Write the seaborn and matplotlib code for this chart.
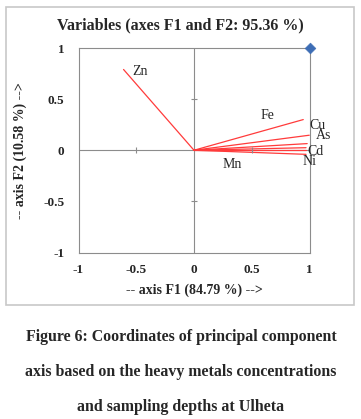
import matplotlib
matplotlib.use("Agg")
import matplotlib.pyplot as plt
import seaborn as sns
import pandas as pd
from matplotlib.patches import Rectangle

# Variable loadings on F1 / F2
variables = ['Zn', 'Fe', 'Cu', 'As', 'Cd', 'Mn', 'Ni']
f1 = [-0.61, 0.946, 0.998, 0.98, 0.97, 0.97, 0.97]
f2 = [0.79, 0.30, 0.147, 0.065, 0.025, 0.0, -0.04]

# Observation point (blue diamond)
obs_f1 = [1.0]
obs_f2 = [1.0]

ticks = [-1, -0.5, 0, 0.5, 1]
tick_labels = ['-1', '-0.5', '0', '0.5', '1']

title = 'Variables (axes F1 and F2: 95.36 %)'
xlabel = '-- axis F1 (84.79 %) -->'
ylabel = '-- axis F2 (10.58 %) -->'
caption = ['Figure 6: Coordinates of principal component',
           'axis based on the heavy metals concentrations',
           'and sampling depths at Ulheta']

df = pd.DataFrame({'var': variables, 'F1': f1, 'F2': f2})

# label offsets in points (placement only)
offsets = {'Zn': (12, -1.2), 'Fe': (-25.6, 3.1), 'Cu': (6, 6.7),
           'As': (11.7, 6), 'Cd': (6.5, -2.4), 'Mn': (-53.3, -10),
           'Ni': (2.4, -5.3)}

sns.set_theme(style='white')
plt.rcParams['font.family'] = ['Liberation Serif', 'DejaVu Serif']

W, H = 361, 419
fig = plt.figure(figsize=(W / 100, H / 100), dpi=100)
fig.patch.set_facecolor('white')

# outer gray frame
fig.patches.append(Rectangle((6 / W, 1 - 305 / H), 348 / W, 298 / H,
                             transform=fig.transFigure, fill=False,
                             edgecolor='#c8c8c8', lw=1.2))

ax = fig.add_axes([78.5 / W, 1 - 252.5 / H, 231 / W, 204.5 / H])

for i, r in df.iterrows():
    sns.lineplot(x=[0, r['F1']], y=[0, r['F2']], color='#ff3b3b', lw=0.9,
                 ax=ax, legend=False)
    ax.annotate(r['var'], (r['F1'], r['F2']), xytext=offsets[r['var']],
                textcoords='offset points', fontsize=10, ha='center', va='center')

sns.scatterplot(x=obs_f1, y=obs_f2, marker='D', s=30, color='#3d6db5',
                edgecolor='#3d6db5', ax=ax, zorder=5, clip_on=False)

ax.axhline(0, color='#8c8c8c', lw=0.8, zorder=0)
ax.axvline(0, color='#8c8c8c', lw=0.8, zorder=0)
# small ticks on the zero axes
ax.plot([-0.5, 0.5], [0, 0], ls='none', marker='|', ms=4, color='#8c8c8c', mew=0.8)
ax.plot([0, 0], [-0.5, 0.5], ls='none', marker='_', ms=4, color='#8c8c8c', mew=0.8)

ax.set_xlim(-1, 1)
ax.set_ylim(-1, 1)
ax.set_xticks(ticks)
ax.set_xticklabels(tick_labels)
ax.set_yticks(ticks)
ax.set_yticklabels(tick_labels)
ax.tick_params(length=0, labelsize=9.5, pad=8)
for t in ax.get_xticklabels() + ax.get_yticklabels():
    t.set_fontweight('bold')
ax.tick_params(axis='y', pad=10)
for s in ax.spines.values():
    s.set_color('#8c8c8c')
    s.set_linewidth(0.8)

ax.set_xlabel(xlabel, fontsize=10, fontweight='bold', labelpad=6)
ax.set_ylabel(ylabel, fontsize=10, fontweight='bold', labelpad=12)

fig.text(180 / W, 1 - 25 / H, title, ha='center', va='center',
         fontsize=11.5, fontweight='bold')

for k, line in enumerate(caption):
    fig.text(181 / W, 1 - (337 + 35 * k) / H, line, ha='center', va='center',
             fontsize=11.4, fontweight='bold')

fig.savefig('out.png', dpi=100)
